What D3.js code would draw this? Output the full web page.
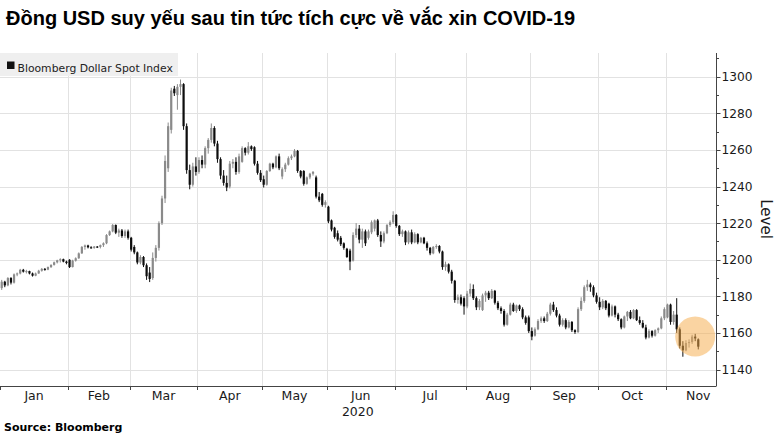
<!DOCTYPE html>
<html><head><meta charset="utf-8">
<script src="https://cdn.jsdelivr.net/npm/d3@7"></script>
<style>body{margin:0;background:#fff}svg{display:block}</style>
</head><body><svg id="c" width="775" height="435"></svg>
<script>
const title = "Đồng USD suy yếu sau tin tức tích cực về vắc xin COVID-19";
const seriesName = "Bloomberg Dollar Spot Index";
const sourceText = "Source: Bloomberg";
const yAxisTitle = "Level";
const yearLabel = "2020";
const monthLabels = ["Jan","Feb","Mar","Apr","May","Jun","Jul","Aug","Sep","Oct","Nov"];
const yTicks = [1140,1160,1180,1200,1220,1240,1260,1280,1300];
const yMinorTicks = [1150,1170,1190,1210,1230,1250,1270,1290,1310];
const holidays = ["2020-01-01","2020-04-10"];
// [open, high, low, close] for each trading day starting 2020-01-02
const candles = [
[1184.5,1189,1183.5,1188],[1188,1188.5,1185,1186],[1186,1190.5,1185.5,1190],[1190,1190.5,1186.5,1187.5],[1187.5,1192.5,1187,1192],
[1192,1193,1191,1192.5],[1192.5,1195,1192,1194.5],[1194.5,1195,1193,1193.5],[1193.5,1194.5,1192.5,1193.8],[1193.8,1194,1192,1192.5],
[1192.5,1193,1190.8,1191.3],[1191.3,1193,1191,1192.5],[1192.5,1194.5,1192.3,1194],[1194,1195.5,1193.5,1195],[1195,1195.5,1194,1194.6],
[1194.6,1196.3,1194.3,1196],[1196,1197.5,1195.5,1197.2],[1197.2,1199,1196.8,1198.6],[1198.6,1200,1198,1199.7],[1199.7,1200.8,1198.5,1200.3],
[1200.3,1200.6,1198.6,1199],[1199,1199.5,1197.5,1198.2],[1200,1200.3,1195.5,1196],[1196,1200,1195.8,1199.5],[1199.5,1201.3,1199,1200.8],
[1200.8,1204,1200.5,1203.5],[1203.5,1207.5,1203.2,1207],[1207,1208.3,1205.5,1207.8],[1207.8,1208.2,1206.2,1206.8],[1206.8,1207.4,1206,1206.5],
[1206.5,1207.5,1206,1207.2],[1207.2,1207.5,1206.4,1207],[1207,1208.3,1206.2,1208],[1208,1209.5,1207,1209],[1209,1214,1208.5,1213.5],
[1213.5,1216,1213,1215.5],[1215.5,1219.5,1215,1219],[1219,1219.3,1214,1214.8],[1214.8,1217,1212.5,1216],[1216,1216.8,1212,1213],
[1213,1216.5,1212,1215.5],[1215.5,1216.5,1211,1212],[1212,1212.5,1204.5,1205.5],[1207,1208,1203,1204],[1204,1204.5,1197.5,1198.5],
[1198.5,1202.5,1197.5,1201.5],[1201.5,1202,1196,1197],[1197,1198,1189,1191],[1193,1196,1187.8,1189.5],[1190,1204,1189,1201],
[1201,1208,1199,1206.5],[1206.5,1221,1205,1220],[1220,1235,1219,1233.5],[1233.5,1257,1231,1254],[1250,1275,1248,1273],
[1271,1294,1269,1292.5],[1293.5,1295,1289.5,1291],[1290,1296,1282,1294.5],[1294.5,1298.5,1290,1296],[1296,1296.5,1271,1273],
[1273,1274.5,1247,1249],[1249,1252,1238.5,1241],[1241,1253,1240,1251],[1251,1256,1246,1248],[1248,1256,1247,1254.5],
[1254.5,1257,1250,1252],[1252,1262,1250,1261],[1261,1266.5,1258,1265.5],[1265.5,1274.5,1264,1272],[1272,1273,1262,1263.5],
[1263.5,1265,1253,1255],[1255,1256,1244,1246],[1246,1249,1240.5,1242],[1242,1246,1237.5,1239.5],[1240,1254,1239,1252.5],
[1252.5,1255,1250,1253.5],[1253.5,1256,1246.5,1248],[1248,1258,1247,1256.5],[1253.5,1262,1253,1261],[1261,1261.5,1257,1258.5],
[1258.5,1264.3,1257.5,1262],[1262,1262.5,1259.5,1260.5],[1261.5,1262,1251.5,1252.5],[1252.5,1254,1246.5,1247.5],[1247.5,1249,1242.5,1243.5],
[1244,1246,1239.5,1241],[1241,1249,1240.5,1248.5],[1248.5,1253,1248,1252.5],[1252.5,1253,1249.5,1250.5],[1250.5,1257,1250,1256.5],
[1256.5,1258,1249,1250],[1245.5,1250.5,1244,1249.5],[1249.5,1253,1248,1252],[1252,1256.5,1251.5,1255.5],[1255.5,1257.5,1254.5,1256.5],
[1256.5,1260.5,1256,1259.5],[1259.5,1260,1247.5,1248.5],[1248.5,1249,1244.5,1245.5],[1248.5,1249,1240.5,1241.5],[1241.5,1245.5,1241,1245],
[1245,1247.5,1244,1247],[1247,1248.5,1246,1248],[1245,1246,1233.5,1234.5],[1234.5,1237,1231.5,1232.5],[1236,1236.5,1229,1230],
[1230,1232.5,1228.5,1231.5],[1229,1229.5,1220,1221],[1221.5,1222,1215.5,1216.5],[1217.5,1218,1211.5,1212.5],[1214.5,1216,1210,1211],
[1212,1213,1207.5,1208.5],[1209,1209.5,1205.5,1206.5],[1206,1206.5,1201,1201.5],[1205,1206,1194.3,1199],[1199.5,1215,1199,1213.5],
[1213.5,1220,1212,1217],[1217,1219,1209,1211],[1211,1217,1206.5,1215.5],[1215.5,1216.5,1207.5,1209],[1212,1216.5,1211,1215.5],
[1215,1221.5,1214,1220.5],[1217,1222,1215.5,1221.5],[1221.5,1222.3,1212.5,1213.5],[1213.5,1215.5,1207,1210],[1210,1215.5,1209,1214.5],
[1214.5,1219.5,1214,1219],[1219,1221.5,1218,1220.5],[1220.5,1226.5,1219.5,1224.5],[1224.5,1225,1217.5,1218.5],[1218.5,1219,1213,1214],
[1214,1216.5,1212.5,1215.5],[1215.5,1216,1208,1209.5],[1209.5,1216,1208.5,1215],[1215,1216.5,1208.5,1209.5],[1209.5,1215,1209,1214],
[1214,1214.5,1208.5,1209.5],[1209.5,1212.5,1209,1212],[1212,1212.5,1208.5,1209],[1209,1210,1205,1206.5],[1206.5,1207,1202.5,1203.5],
[1203.5,1207.5,1203,1207],[1207,1208.5,1206,1207.5],[1207.5,1208,1203.5,1204.5],[1204.5,1205,1194.5,1196],[1196,1199,1194,1197.5],
[1197.5,1198,1192.5,1193.5],[1193.5,1194.5,1187,1188.5],[1188.5,1189,1176.5,1178],[1178,1181,1176,1179.5],[1179.5,1181,1175,1176],
[1179,1180,1170,1174.5],[1174.5,1183,1173.5,1181.5],[1181.5,1187,1180,1184],[1184,1186.5,1178,1179],[1179,1180,1172.5,1174],
[1174,1178.5,1172.5,1177.5],[1172.5,1181.5,1172,1180.5],[1180.5,1183,1177,1182],[1182,1183,1178,1179],[1179,1184,1178.5,1183],
[1183,1183.5,1175.5,1176.5],[1176.5,1177.5,1172.5,1173.5],[1173.5,1174.5,1170.5,1172],[1172,1173,1163.5,1164.5],[1164.5,1171,1164,1170],
[1170,1176.5,1169.5,1175.5],[1175.5,1176.5,1171.5,1172],[1172,1175.5,1171,1175],[1175,1175.5,1172,1173],[1173,1174,1167.5,1168.5],
[1168.5,1169.5,1164.5,1165.5],[1168.5,1169.5,1160,1161],[1161,1163,1156,1158],[1158.5,1163,1158,1162],[1162,1167.5,1161.5,1166.5],
[1166.5,1169,1165.5,1168],[1168,1169,1165.5,1166.5],[1166.5,1171.5,1166,1170.5],[1170.5,1176.5,1169.5,1175.5],[1175.5,1177,1171.5,1172.5],
[1172.5,1174,1168.5,1169.5],[1169.5,1170.5,1163.5,1164.5],[1164.5,1168,1163.5,1167],[1167,1168,1162,1163],[1163,1167,1162.5,1166],
[1166,1166.5,1160.5,1161.5],[1161.5,1162,1159.5,1160.5],[1160.5,1174,1160,1173],[1173,1179.5,1172,1177.5],[1177.5,1186,1176.5,1185],
[1185,1189,1183,1186.5],[1186.5,1187.5,1182.5,1185],[1185,1186,1179.5,1180.5],[1180.5,1182,1176,1177],[1177,1179.5,1172.5,1174],
[1174,1178.5,1173,1177.5],[1177.5,1178,1172.5,1173.5],[1176,1176.5,1168.5,1169.5],[1169.5,1175.5,1169,1174.5],[1174.5,1175,1168.5,1170],
[1170,1171,1166.5,1167.5],[1167.5,1168,1162,1163],[1163,1169.5,1162.5,1169],[1169,1172,1166.5,1171.5],[1171.5,1172.5,1167.5,1168],
[1168,1173,1167.5,1172.5],[1172.5,1173,1166.5,1167],[1167,1169,1164.5,1165.5],[1165.5,1167,1162.5,1163],[1163,1164.5,1156.5,1157.5],
[1157.5,1162,1157,1161],[1161,1161.5,1157.5,1158.5],[1158.5,1162,1158,1161.5],[1161.5,1163,1160,1162.5],[1162.5,1169,1162,1168],
[1168,1174,1167,1173],[1168.5,1176,1168,1175.5],[1175.5,1176,1164.5,1166],[1166,1172,1164.5,1170],[1170,1179,1160,1162],
[1162,1163,1151.5,1153],[1153,1155.5,1147,1150.5],[1150.5,1156,1150,1154.5],[1154.5,1156.5,1152,1155],[1155,1159,1154,1158],
[1158,1159.5,1155.5,1157],[1156.5,1157,1151,1152.5]
];
const highlight = {day: 225, value: 1158, radius: 20};

const svg = d3.select("#c");
const W = 775, H = 435;
const plot = {left: 0, right: 716, top: 53, bottom: 386};
svg.append("rect").attr("width", W).attr("height", H).attr("fill", "#fff");

// trading-day calendar
const fmt = d3.timeFormat("%Y-%m-%d");
const days = d3.timeDay.range(new Date(2020,0,1), new Date(2021,0,1))
  .filter(d => d.getDay() % 6 !== 0 && !holidays.includes(fmt(d)));
const monthStart = d3.range(12).map(m => days.findIndex(d => d.getMonth() === m) - 0.5);
monthStart.push(days.length - 0.5);

const x = d3.scaleLinear().domain([-0.56, 231.75]).range([plot.left, plot.right]);
const y = d3.scaleLinear().domain([1131.0, 1313.0]).range([plot.bottom, plot.top]);

// gridlines
const grid = svg.append("g");
grid.selectAll(".hg").data(yTicks).join("line")
  .attr("x1", plot.left).attr("x2", plot.right)
  .attr("y1", d => Math.round(y(d)) + 0.5).attr("y2", d => Math.round(y(d)) + 0.5)
  .attr("stroke", "#e2e2e2").attr("stroke-width", 1);
grid.selectAll(".vg").data(monthStart.slice(1, 11)).join("line")
  .attr("x1", d => Math.round(x(d)) + 0.5).attr("x2", d => Math.round(x(d)) + 0.5)
  .attr("y1", plot.top).attr("y2", plot.bottom)
  .attr("stroke", "#e2e2e2").attr("stroke-width", 1);

// legend
svg.append("rect").attr("x", 0).attr("y", 53).attr("width", 178).attr("height", 23).attr("fill", "#efefef");
svg.append("rect").attr("x", 7).attr("y", 61.5).attr("width", 7.5).attr("height", 7.5).attr("fill", "#111");
svg.append("text").attr("x", 17.5).attr("y", 72).attr("font-family", "DejaVu Sans").attr("font-size", 10.8)
  .attr("fill", "#222").text(seriesName);

// candles
const cg = svg.append("g");
const up = "#8a8a8a", down = "#0d0d0d";
const bw = 2.2;
cg.selectAll(".wick").data(candles).join("line")
  .attr("x1", (d, i) => x(i)).attr("x2", (d, i) => x(i))
  .attr("y1", d => y(d[1])).attr("y2", d => y(d[2]))
  .attr("stroke", d => d[3] >= d[0] ? up : down).attr("stroke-width", 1);
cg.selectAll(".body").data(candles).join("rect")
  .attr("x", (d, i) => x(i) - bw / 2).attr("width", bw)
  .attr("y", d => y(Math.max(d[0], d[3])))
  .attr("height", d => Math.max(1, Math.abs(y(d[0]) - y(d[3]))))
  .attr("fill", d => d[3] >= d[0] ? up : down);

// highlight circle
svg.append("circle").attr("cx", x(highlight.day)).attr("cy", y(highlight.value)).attr("r", highlight.radius)
  .attr("fill", "rgb(246,172,76)").attr("fill-opacity", 0.52);

// right axis
const yAxis = svg.append("g").attr("transform", `translate(${plot.right},0)`);
yAxis.append("line").attr("x1", 0.5).attr("x2", 0.5).attr("y1", plot.top).attr("y2", plot.bottom).attr("stroke", "#444");
yAxis.selectAll(".mt").data(yTicks).join("line")
  .attr("x1", 0.5).attr("x2", 4.5).attr("y1", d => Math.round(y(d)) + 0.5).attr("y2", d => Math.round(y(d)) + 0.5)
  .attr("stroke", "#444");
yAxis.selectAll(".nt").data(yMinorTicks.filter(v => y(v) >= plot.top)).join("line")
  .attr("x1", 0.5).attr("x2", 3).attr("y1", d => Math.round(y(d)) + 0.5).attr("y2", d => Math.round(y(d)) + 0.5)
  .attr("stroke", "#444");
yAxis.selectAll(".tl").data(yTicks).join("text")
  .attr("x", 5.5).attr("y", d => y(d) + 4.5)
  .attr("font-family", "DejaVu Sans").attr("font-size", 12.2).attr("fill", "#1a1a1a").text(d => d);
svg.append("text").attr("transform", `translate(761,219) rotate(90)`).attr("text-anchor", "middle")
  .attr("font-family", "DejaVu Sans").attr("font-size", 15).attr("fill", "#1a1a1a").text(yAxisTitle);

// bottom axis
const xAxis = svg.append("g");
xAxis.append("line").attr("x1", plot.left).attr("x2", plot.right + 0.5).attr("y1", plot.bottom + 0.5).attr("y2", plot.bottom + 0.5).attr("stroke", "#444");
xAxis.selectAll(".xt").data(monthStart.slice(0, 11)).join("line")
  .attr("x1", d => Math.max(0.5, Math.round(x(d)) + 0.5)).attr("x2", d => Math.max(0.5, Math.round(x(d)) + 0.5))
  .attr("y1", plot.bottom).attr("y2", plot.bottom + 4).attr("stroke", "#444");
xAxis.selectAll(".xl").data(monthLabels).join("text")
  .attr("x", (d, i) => x((monthStart[i] + monthStart[i + 1]) / 2)).attr("y", 399.5)
  .attr("text-anchor", "middle").attr("font-family", "DejaVu Sans").attr("font-size", 12.5).attr("fill", "#1a1a1a")
  .text(d => d);
xAxis.append("text").attr("x", x((monthStart[5] + monthStart[6]) / 2) - 3).attr("y", 416)
  .attr("text-anchor", "middle").attr("font-family", "DejaVu Sans").attr("font-size", 12.5).attr("fill", "#1a1a1a")
  .text(yearLabel);

// title & source
svg.append("text").attr("x", 6).attr("y", 25).attr("font-family", "Liberation Sans, Arial, sans-serif")
  .attr("font-weight", "bold").attr("font-size", 20).attr("fill", "#000").text(title);
svg.append("text").attr("x", 4).attr("y", 431).attr("font-family", "DejaVu Sans").attr("font-weight", "bold")
  .attr("font-size", 11).attr("fill", "#000").text(sourceText);
</script></body></html>
